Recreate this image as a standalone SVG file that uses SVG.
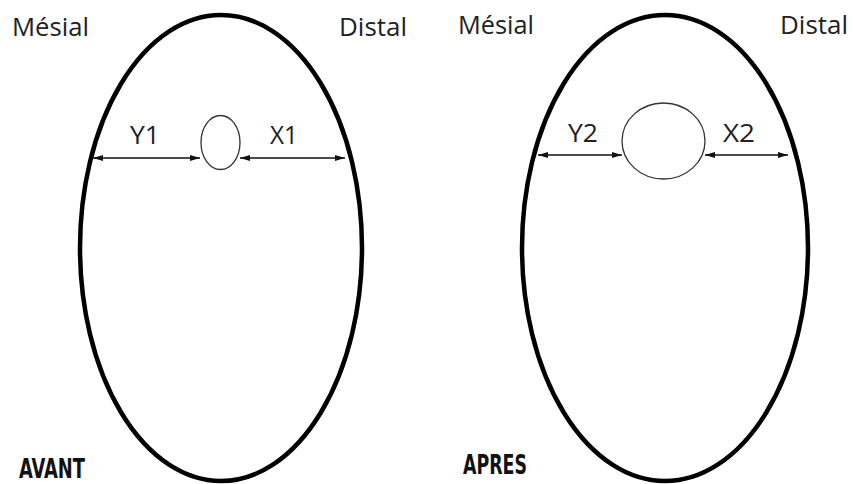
<svg xmlns="http://www.w3.org/2000/svg" width="853" height="484" viewBox="0 0 853 484">
<defs>
<style>
.big{fill:none;stroke:#000;stroke-width:4.5}
.small{fill:#fff;stroke:#333;stroke-width:1.3}
.dim{stroke:#111;stroke-width:1.5;fill:none;marker-start:url(#ah);marker-end:url(#ah)}
.lbl{font-family:"Open Sans","Liberation Sans",sans-serif;font-size:26px;fill:#222}
.title{font-family:"DejaVu Sans Condensed","DejaVu Sans",sans-serif;font-weight:bold;font-size:26px;fill:#111}
</style>
<marker id="ah" viewBox="0 0 10 6" refX="10" refY="3" markerWidth="10" markerHeight="6" markerUnits="userSpaceOnUse" orient="auto-start-reverse">
<path d="M0,0 L10,3 L0,6 z" fill="#111"/>
</marker>
</defs>
<rect width="853" height="484" fill="#fff"/>
<g id="avant">
<ellipse class="big" cx="221" cy="248" rx="141" ry="233"/>
<ellipse class="small" cx="220.5" cy="142.5" rx="19.5" ry="27"/>
<text class="lbl" x="12" y="36" textLength="77" lengthAdjust="spacingAndGlyphs">Mésial</text>
<text class="lbl" x="339" y="36" textLength="68" lengthAdjust="spacingAndGlyphs">Distal</text>
<text class="lbl" x="130" y="144" textLength="30" lengthAdjust="spacingAndGlyphs">Y1</text>
<text class="lbl" x="270" y="144" textLength="28" lengthAdjust="spacingAndGlyphs">X1</text>
<text class="title" x="19" y="478" textLength="66" lengthAdjust="spacingAndGlyphs">AVANT</text>
</g>
<g id="apres">
<ellipse class="big" cx="665" cy="248" rx="143" ry="233"/>
<ellipse class="small" cx="663.5" cy="141" rx="41.5" ry="38"/>
<text class="lbl" x="458" y="34" textLength="76" lengthAdjust="spacingAndGlyphs">Mésial</text>
<text class="lbl" x="780" y="34" textLength="68" lengthAdjust="spacingAndGlyphs">Distal</text>
<text class="lbl" x="568" y="142" textLength="30" lengthAdjust="spacingAndGlyphs">Y2</text>
<text class="lbl" x="723" y="142" textLength="32" lengthAdjust="spacingAndGlyphs">X2</text>
<text class="title" x="463" y="474" textLength="64" lengthAdjust="spacingAndGlyphs">APRES</text>
</g>
<g id="connectors">
<line class="dim" x1="93" y1="158" x2="200" y2="158"/>
<line class="dim" x1="240" y1="158" x2="345" y2="158"/>
<line class="dim" x1="538" y1="155" x2="622" y2="155"/>
<line class="dim" x1="705" y1="155" x2="788" y2="155"/>
</g>
</svg>
